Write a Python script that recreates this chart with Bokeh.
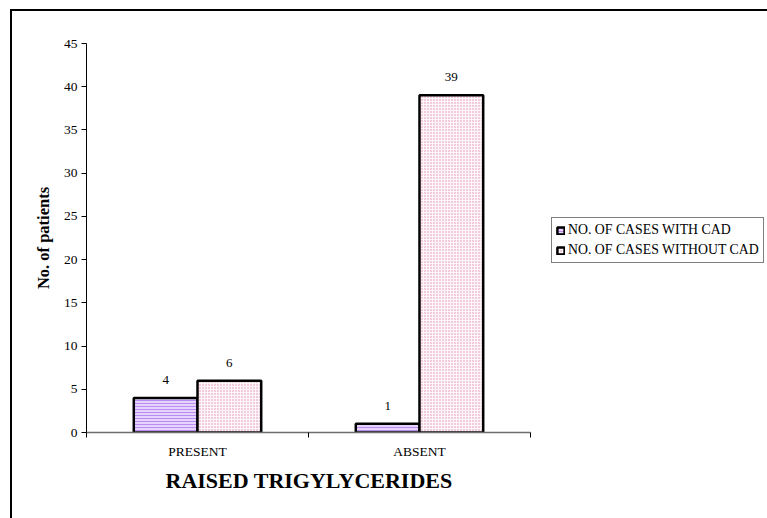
from bokeh.plotting import figure
from bokeh.models import (ColumnDataSource, Range1d, LinearAxis, FixedTicker,
                          LabelSet, Legend, LegendItem, Title)
from bokeh.embed import file_html
from bokeh.resources import INLINE

# Data
categories = ["PRESENT", "ABSENT"]
with_cad = [4, 1]
without_cad = [6, 39]
series_names = ["NO. OF CASES WITH CAD", "NO. OF CASES WITHOUT CAD"]
y_ticks = [0, 5, 10, 15, 20, 25, 30, 35, 40, 45]
x_title = "RAISED TRIGYLYCERIDES"
y_title = "No. of patients"

FONT = "Liberation Serif"
BAR_W = 0.287

# layout (pixels): the category axis covers 444 px of a 681 px wide frame,
# the rest of the frame holds the legend
FIG_W, FIG_H = 755, 507
LEFT, TOP, BOTTOM = 74, 32, 86
AXIS_PX = 444
FRAME_PX = FIG_W - LEFT
x_end = len(categories) * FRAME_PX / AXIS_PX

centers = [i + 0.5 for i in range(len(categories))]
src_a = ColumnDataSource(dict(x=[c - BAR_W / 2 for c in centers], top=with_cad,
                              lab=[str(v) for v in with_cad]))
src_b = ColumnDataSource(dict(x=[c + BAR_W / 2 for c in centers], top=without_cad,
                              lab=[str(v) for v in without_cad]))

# the figure sits inside a framed chart area (outline drawn by CSS)
p = figure(width=FIG_W, height=FIG_H, output_backend="svg", toolbar_location=None,
           x_range=Range1d(0, x_end), y_range=Range1d(0, 45),
           x_axis_type=None, y_axis_type=None,
           min_border_left=LEFT, min_border_right=0,
           min_border_top=TOP, min_border_bottom=BOTTOM)
p.margin = (11, 0, 0, 12)
p.styles = {"outline": "2px solid black"}
p.outline_line_color = None
p.xgrid.visible = False
p.ygrid.visible = False
p.background_fill_color = "white"
p.border_fill_color = "white"

# Y axis
yax = LinearAxis(ticker=FixedTicker(ticks=y_ticks), axis_label=y_title)
yax.axis_line_color = "black"
yax.major_tick_line_color = "black"
yax.major_tick_in = 0
yax.major_tick_out = 5
yax.minor_tick_line_color = None
yax.major_label_text_font = FONT
yax.major_label_text_font_size = "13.5px"
yax.major_label_text_color = "black"
yax.major_label_standoff = 4
yax.axis_label_text_font = FONT
yax.axis_label_text_font_size = "16.5px"
yax.axis_label_text_font_style = "bold"
yax.axis_label_text_color = "black"
yax.axis_label_standoff = 8
p.add_layout(yax, "left")

# X axis: labels at category centres, tick marks at category boundaries
xax = LinearAxis(ticker=FixedTicker(ticks=centers,
                                    minor_ticks=list(range(len(categories) + 1))),
                 bounds=(0, len(categories)))
xax.major_label_overrides = {c: name for c, name in zip(centers, categories)}
xax.axis_line_color = "#6e6e6e"
xax.axis_line_width = 1.5
xax.major_tick_line_color = None
xax.minor_tick_line_color = "black"
xax.minor_tick_in = 0
xax.minor_tick_out = 5
xax.major_label_text_font = FONT
xax.major_label_text_font_size = "13.5px"
xax.major_label_text_color = "black"
xax.major_label_standoff = 5
p.add_layout(xax, "below")

# category-axis title, centred under the category axis
p.add_layout(Title(text=x_title, align="left", offset=79, standoff=8,
                   text_font=FONT, text_font_size="22px",
                   text_font_style="bold", text_color="black"), "below")

r_a = p.vbar(x="x", top="top", width=BAR_W, source=src_a,
             fill_color="#e6d4ff", hatch_pattern="horizontal_line",
             hatch_color="#b98cf0", hatch_scale=3, hatch_weight=1,
             line_color="black", line_width=2.5)
r_b = p.vbar(x="x", top="top", width=BAR_W, source=src_b,
             fill_color="#fff6f9", hatch_pattern="dot",
             hatch_color="#d98cb0", hatch_scale=3, hatch_weight=1,
             line_color="black", line_width=2.5)

for src in (src_a, src_b):
    p.add_layout(LabelSet(x="x", y="top", text="lab", source=src,
                          text_align="center", text_baseline="bottom",
                          y_offset=14, text_font=FONT, text_font_size="13px",
                          text_color="black"))

legend = Legend(items=[LegendItem(label=series_names[0], renderers=[r_a]),
                       LegendItem(label=series_names[1], renderers=[r_b])],
                location=(465, 169))
legend.label_text_font = FONT
legend.label_text_font_size = "13.8px"
legend.label_text_color = "black"
legend.glyph_width = 9
legend.glyph_height = 9
legend.label_standoff = 3
legend.label_height = 14
legend.spacing = 4
legend.padding = 4
legend.margin = 0
legend.border_line_color = "black"
legend.border_line_width = 1.5
legend.background_fill_color = "white"
legend.background_fill_alpha = 1
p.add_layout(legend, "center")

open("out.html", "w").write(file_html(p, INLINE))
